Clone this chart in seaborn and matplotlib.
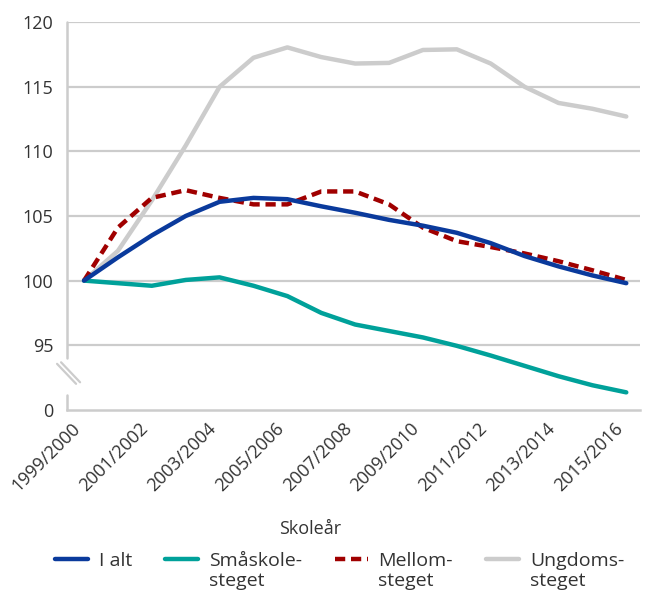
import numpy as np
import pandas as pd
import matplotlib
matplotlib.use("Agg")
import matplotlib.pyplot as plt
import seaborn as sns

# --- data (index, 1999/2000 = 100) ---
skoleaar = ["1999/2000", "2000/2001", "2001/2002", "2002/2003", "2003/2004",
            "2004/2005", "2005/2006", "2006/2007", "2007/2008", "2008/2009",
            "2009/2010", "2010/2011", "2011/2012", "2012/2013", "2013/2014",
            "2014/2015", "2015/2016"]
i_alt = [100.0, 101.8, 103.5, 105.0, 106.1, 106.4, 106.3, 105.75, 105.25, 104.7,
         104.25, 103.7, 102.9, 101.9, 101.1, 100.4, 99.8]
smaaskole = [100.0, 99.8, 99.6, 100.05, 100.25, 99.6, 98.8, 97.5, 96.6, 96.1,
             95.6, 94.95, 94.2, 93.4, 92.6, 91.9, 91.35]
mellom = [100.0, 104.1, 106.4, 107.0, 106.4, 105.9, 105.9, 106.9, 106.9, 105.9,
          104.1, 103.05, 102.6, 102.1, 101.5, 100.8, 100.05]
ungdoms = [100.0, 102.3, 106.2, 110.45, 115.0, 117.25, 118.05, 117.3, 116.8, 116.85,
           117.85, 117.9, 116.8, 115.0, 113.75, 113.3, 112.7]

serie_navn = ["I alt", "Småskole-\nsteget", "Mellom-\nsteget", "Ungdoms-\nsteget"]
farger = ["#0a3a9c", "#00a19a", "#a00000", "#cccccc"]

y_ticks = [90, 95, 100, 105, 110, 115, 120]
y_labels = ["0", "95", "100", "105", "110", "115", "120"]

# --- stil ---
sns.set_theme(style="white")
plt.rcParams["font.family"] = ["Open Sans", "DejaVu Sans"]
tekst = "#333333"
grid_col = "#cccccc"
fs = 13
fs_leg = 14

df = pd.DataFrame({
    "x": np.tile(np.arange(len(skoleaar)), 4),
    "verdi": i_alt + smaaskole + mellom + ungdoms,
    "serie": np.repeat(serie_navn, len(skoleaar)),
})

fig = plt.figure(figsize=(6.45, 6.0), dpi=100)
ax = fig.add_axes([0.104, 0.317, 0.888, 0.646])

# tegnerekkefølge: grå under, blå øverst
zorder = {serie_navn[3]: 2, serie_navn[1]: 3, serie_navn[2]: 4, serie_navn[0]: 5}
handles = {}
for navn, farge in zip(serie_navn, farger):
    d = df[df["serie"] == navn]
    sns.lineplot(data=d, x="x", y="verdi", ax=ax, color=farge, lw=3.2,
                 zorder=zorder[navn], legend=False)
    line = ax.lines[-1]
    if navn.startswith("Mellom"):
        line.set_dashes((2.3, 1.3))
        line.set_dash_capstyle("butt")
    handles[navn] = line

ax.set_xlim(-0.5, 16.4)
ax.set_ylim(90, 120)
ax.set_yticks(y_ticks)
ax.set_yticklabels(y_labels)
ax.set_xticks(range(len(skoleaar)))
ax.set_xticklabels([s if i % 2 == 0 else "" for i, s in enumerate(skoleaar)],
                   rotation=45, ha="right", va="top")
ax.tick_params(axis="x", direction="in", length=6, width=1.5, color=grid_col,
               labelsize=fs, labelcolor=tekst, pad=7)
ax.tick_params(axis="y", length=0, labelsize=fs, labelcolor=tekst, pad=10)
ax.set_xlabel("Skoleår", fontsize=fs, color=tekst)
ax.xaxis.set_label_coords(0.424, -0.285)
ax.set_ylabel("")

# gridlinjer (ikke på bruddet)
for y in y_ticks[1:]:
    ax.axhline(y, color=grid_col, lw=1.6, zorder=1)

for s in ["top", "right", "left"]:
    ax.spines[s].set_visible(False)
ax.spines["bottom"].set_color(grid_col)
ax.spines["bottom"].set_linewidth(1.8)

# venstre akse med brudd
ax.plot([0, 0], [0.134, 1.0], transform=ax.transAxes, color=grid_col, lw=1.8, clip_on=False)
ax.plot([0, 0], [0.0, 0.038], transform=ax.transAxes, color=grid_col, lw=1.8, clip_on=False)
ax.plot([-0.0175, 0.0157], [0.1186, 0.067], transform=ax.transAxes,
        color=grid_col, lw=1.6, clip_on=False)
ax.plot([-0.0105, 0.0227], [0.1226, 0.071], transform=ax.transAxes,
        color=grid_col, lw=1.6, clip_on=False)

# tegnforklaring: første linje ved symbolet, "steget" under
forste = [n.split("\n")[0] for n in serie_navn]
leg = fig.legend([handles[n] for n in serie_navn], forste, loc="upper left",
                 bbox_to_anchor=(0.07, 0.096), ncol=4, frameon=False,
                 fontsize=fs_leg, handlelength=1.7, handletextpad=0.55,
                 columnspacing=1.7, borderpad=0, labelcolor=tekst)

fig.canvas.draw()
inv = fig.transFigure.inverted()
for txt, navn in zip(leg.get_texts(), serie_navn):
    deler = navn.split("\n")
    if len(deler) > 1:
        bb = txt.get_window_extent()
        x0, y0 = inv.transform((bb.x0, bb.y0))
        fig.text(x0, y0 - 0.003, deler[1], fontsize=fs_leg, color=tekst,
                 ha="left", va="top")

fig.savefig("out.png", dpi=100)
